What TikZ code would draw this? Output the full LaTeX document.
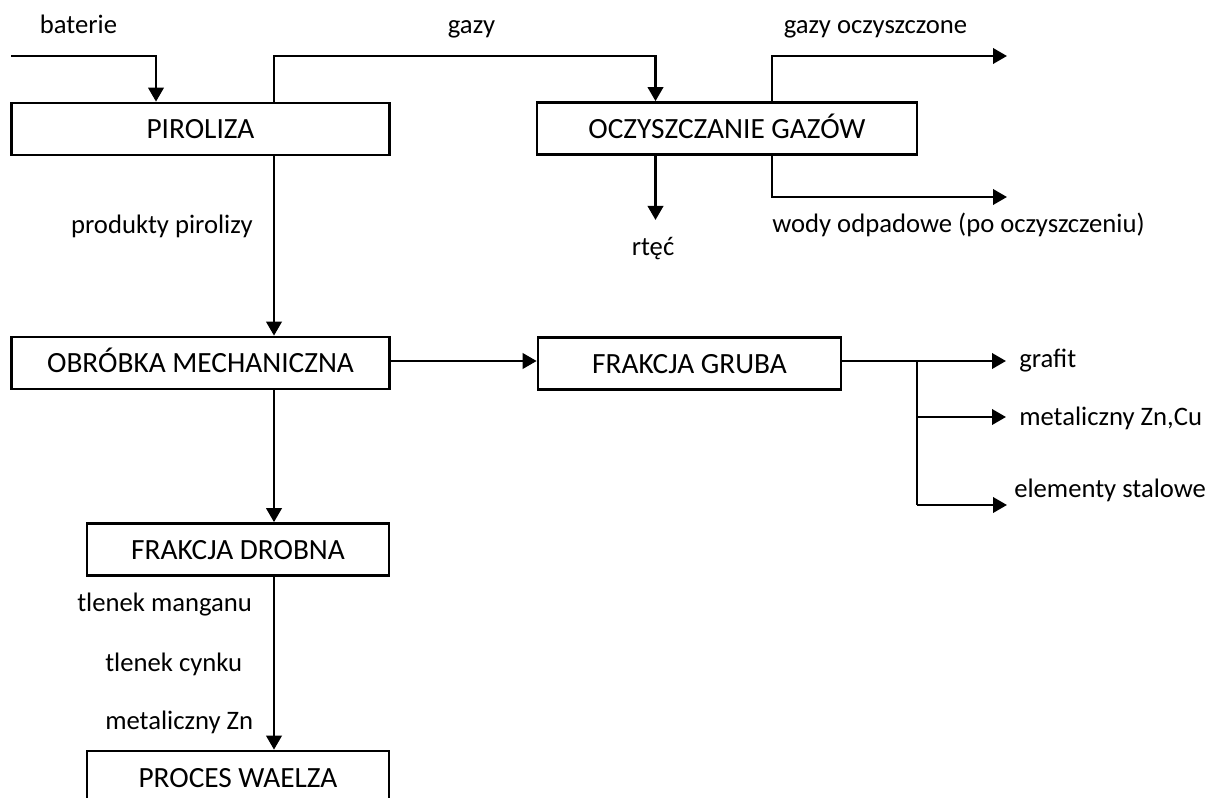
\documentclass[tikz,border=0pt]{standalone}
\usepackage{fontspec}
\setmainfont{Carlito}
\usetikzlibrary{arrows.meta,calc}
\tikzset{
  stage/.style={draw, line width=2pt, inner sep=0pt, minimum height=52*0.75pt,
                text height=16pt, text depth=1pt,
                font=\fontsize{22pt}{26pt}\selectfont},
  lbl/.style={inner sep=0pt, font=\fontsize{20pt}{24pt}\selectfont},
  flow/.style={line width=2pt},
  arr/.style={flow, -{Triangle[length=10.5pt, width=11.5pt]}}
}
\begin{document}
\begin{tikzpicture}[x=0.75pt, y=-0.75pt]
\useasboundingbox (0,0) rectangle (1216,798);
\clip (0,0) rectangle (1216,798);

% process stages
\node[stage, minimum width=378*0.75pt] (pir) at (200.5,129) {PIROLIZA};
\node[stage, minimum width=380*0.75pt] (ocz) at (727,128.5) {OCZYSZCZANIE GAZÓW};
\node[stage, minimum width=378*0.75pt] (obr) at (200.5,363) {OBRÓBKA MECHANICZNA};
\node[stage, minimum width=303*0.75pt] (fg)  at (689.5,363.5) {FRAKCJA GRUBA};
\node[stage, minimum width=302*0.75pt] (fd)  at (238,549.5) {FRAKCJA DROBNA};
\node[stage, minimum width=302*0.75pt] (pw)  at (238,777) {PROCES WAELZA};

% guide positions for the vertical runs
\coordinate (spine) at (274,0);
\coordinate (batx)  at (156,0);
\coordinate (ocx)   at (655.5,0);
\coordinate (ocr)   at (772,0);
\coordinate (bus)   at (917,0);

% free ends
\coordinate (bin)  at (11,56);
\coordinate (gout) at (1007,56);
\coordinate (wout) at (1007,197);
\coordinate (hg)   at (655.5,220);
\coordinate (t1)   at (1006,361);
\coordinate (t2)   at (1006,417);
\coordinate (t3)   at (1007,505);

% feed and gas lines
\draw[arr] (bin) -| (pir.north -| batx);
\draw[arr] (pir.north -| spine) -- (spine |- bin) -| (ocz.north -| ocx);
\draw[arr] (ocz.north -| ocr) -- (ocr |- bin) -- (gout);
\draw[arr] (ocz.south -| ocr) |- (wout);
\draw[arr] (ocz.south -| ocx) -- (hg);

% solid products
\draw[arr] (pir.south -| spine) -- (obr.north -| spine);
\draw[arr] (obr.east |- t1) -- (fg.west |- t1);
\draw[arr] (obr.south -| spine) -- (fd.north -| spine);
\draw[arr] (fd.south -| spine) -- (pw.north -| spine);

% coarse fraction split
\draw[arr] (fg.east |- t1) -- (t1);
\draw[flow] (bus |- t1) -- (bus |- t3);
\draw[arr] (bus |- t2) -- (t2);
\draw[arr] (bus |- t3) -- (t3);

% stream labels
\node[lbl, anchor=base] (lb) at (78.5,34) {baterie};
\node[lbl, anchor=base] (lg) at (471.5,34) {gazy};
\node[lbl, anchor=base] (lgo) at (875.5,34) {gazy oczyszczone};
\node[lbl, anchor=base west] (lw) at (772,233) {wody odpadowe (po oczyszczeniu)};
\node[lbl, anchor=base] (lh) at (653,256) {rtęć};
\node[lbl, anchor=base east] (lp) at (253,234) {produkty pirolizy};
\node[lbl, anchor=base west] (l1) at (1019,368) {grafit};
\node[lbl, anchor=base west] (l2) at (1019,425) {metaliczny Zn,Cu};
\node[lbl, anchor=base west] (l3) at (1014,497) {elementy stalowe};
\node[lbl, anchor=base west] (lm) at (77,611) {tlenek manganu};
\node[lbl, anchor=base west] (lc) at (105,671) {tlenek cynku};
\node[lbl, anchor=base west] (lz) at (105,729) {metaliczny Zn};
\end{tikzpicture}
\end{document}
